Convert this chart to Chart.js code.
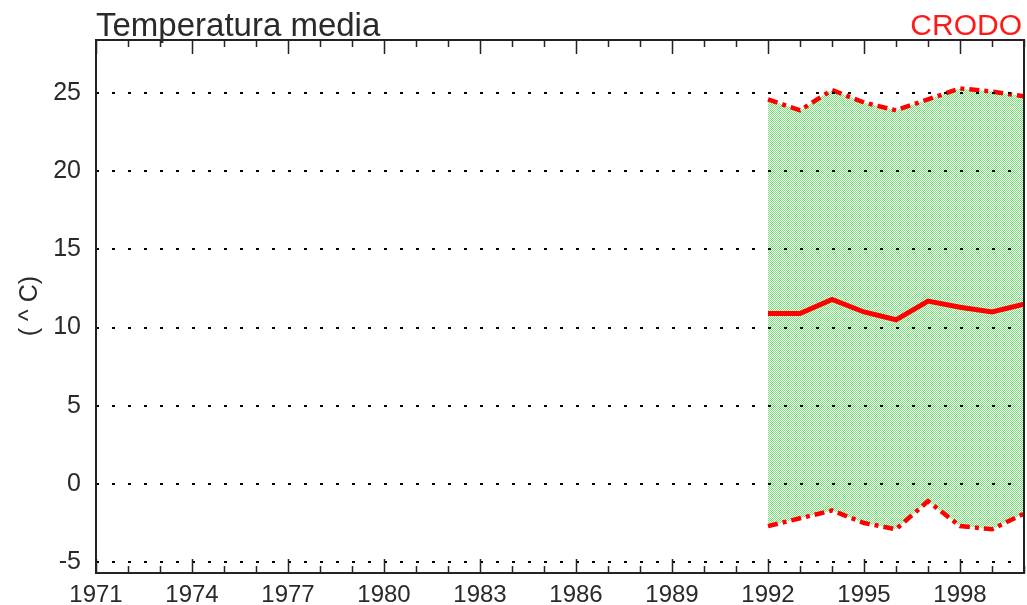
<!DOCTYPE html>
<html>
<head>
<meta charset="utf-8">
<script src="https://cdn.jsdelivr.net/npm/chart.js@4.4.0/dist/chart.umd.min.js"></script>
<style>
  html, body { margin: 0; padding: 0; background: #fff; }
  #wrap { width: 1027px; height: 605px; }
</style>
</head>
<body>
<div id="wrap"><canvas id="c" width="1027" height="605"></canvas></div>
<script>
const years = [1992, 1993, 1994, 1995, 1996, 1997, 1998, 1999, 2000];
const tMax  = [24.6, 23.9, 25.2, 24.4, 23.9, 24.6, 25.3, 25.1, 24.8];
const tMean = [10.9, 10.9, 11.8, 11.0, 10.5, 11.7, 11.3, 11.0, 11.5];
const tMin  = [-2.7, -2.2, -1.7, -2.5, -2.9, -1.1, -2.7, -2.9, -1.9];
const yTicks = [-5, 0, 5, 10, 15, 20, 25];
const xFirst = 1971, xLast = 2000;

const FONT = '"Liberation Sans", Arial, Helvetica, sans-serif';

// dotted green fill like the original
function greenPattern() {
  const pc = document.createElement('canvas');
  pc.width = 2; pc.height = 2;
  const g = pc.getContext('2d');
  g.fillStyle = '#ffffff';
  g.fillRect(0, 0, 2, 2);
  g.fillStyle = '#70e070';
  g.fillRect(0, 0, 1, 1);
  g.fillRect(1, 1, 1, 1);
  return g.createPattern(pc, 'repeat');
}

const pts = arr => years.map((yr, i) => ({ x: yr, y: arr[i] }));

// dotted grid, frame, inward year ticks, titles
const decor = {
  id: 'decor',
  afterDraw(chart) {
    const { ctx, chartArea: a, scales } = chart;
    const xs = scales.x;
    ctx.save();

    // grid dots, laid out from the right edge back to the left
    ctx.fillStyle = '#000';
    yTicks.forEach(v => {
      const py = Math.round(scales.y.getPixelForValue(v));
      for (let px = a.left; px <= a.right - 3; px += 16) {
        ctx.fillRect(Math.round(px), py - 1, 3, 2);
      }
    });

    ctx.strokeStyle = '#222';
    ctx.lineWidth = 1.5;
    for (let yr = xFirst; yr <= xLast; yr++) {
      const px = Math.round(xs.getPixelForValue(yr)) + 0.5;
      const len = (yr - xFirst) % 3 === 0 ? 14 : 7;
      ctx.beginPath();
      ctx.moveTo(px, a.bottom); ctx.lineTo(px, a.bottom - len);
      ctx.moveTo(px, a.top); ctx.lineTo(px, a.top + len);
      ctx.stroke();
    }
    ctx.lineWidth = 2;
    ctx.strokeRect(a.left, a.top, a.right - a.left, a.bottom - a.top);

    ctx.fillStyle = '#2a2a2a';
    ctx.font = '33px ' + FONT;
    ctx.textAlign = 'left';
    ctx.textBaseline = 'alphabetic';
    ctx.fillText('Temperatura media', 96, 36);

    ctx.fillStyle = '#ff1a1a';
    ctx.font = '30px ' + FONT;
    ctx.textAlign = 'right';
    ctx.fillText('CRODO', 1022, 35);

    ctx.fillStyle = '#2a2a2a';
    ctx.font = '25px ' + FONT;
    ctx.translate(30, 306);
    ctx.rotate(-Math.PI / 2);
    ctx.textAlign = 'center';
    ctx.textBaseline = 'middle';
    ctx.fillText('( ^ C)', 0, 0);
    ctx.restore();
  }
};

new Chart(document.getElementById('c'), {
  type: 'line',
  data: {
    datasets: [
      {
        data: pts(tMax),
        borderColor: '#ff0000',
        borderWidth: 4.5,
        borderDash: [10, 5, 4, 5],
        pointRadius: 0,
        fill: false,
        tension: 0
      },
      {
        data: pts(tMin),
        borderColor: '#ff0000',
        borderWidth: 4.5,
        borderDash: [10, 5, 4, 5],
        pointRadius: 0,
        backgroundColor: greenPattern(),
        fill: '-1',
        tension: 0
      },
      {
        data: pts(tMean),
        borderColor: '#ff0000',
        borderWidth: 5,
        pointRadius: 0,
        fill: false,
        tension: 0
      }
    ]
  },
  options: {
    responsive: false,
    animation: false,
    layout: { padding: { top: 40, right: 3, left: 0, bottom: 0 } },
    plugins: {
      legend: { display: false },
      tooltip: { enabled: false },
      filler: { drawTime: 'beforeDatasetsDraw' }
    },
    scales: {
      x: {
        type: 'linear',
        min: xFirst,
        max: xLast,
        afterFit(s) { s.height = 32; },
        afterBuildTicks(s) {
          const t = [];
          for (let yr = xFirst; yr <= xLast; yr += 3) t.push({ value: yr });
          s.ticks = t;
        },
        grid: { display: false, drawTicks: false },
        border: { display: false },
        ticks: {
          autoSkip: false,
          maxRotation: 0,
          padding: 8,
          color: '#2a2a2a',
          font: { family: FONT, size: 24 },
          callback: v => String(v)
        }
      },
      y: {
        min: -5.7,
        max: 28.4,
        afterFit(s) { s.width = 96; },
        afterBuildTicks(s) { s.ticks = yTicks.map(v => ({ value: v })); },
        grid: { display: false, drawTicks: false },
        border: { display: false },
        ticks: {
          padding: 15,
          color: '#2a2a2a',
          font: { family: FONT, size: 25 }
        }
      }
    }
  },
  plugins: [decor]
});
</script>
</body>
</html>
